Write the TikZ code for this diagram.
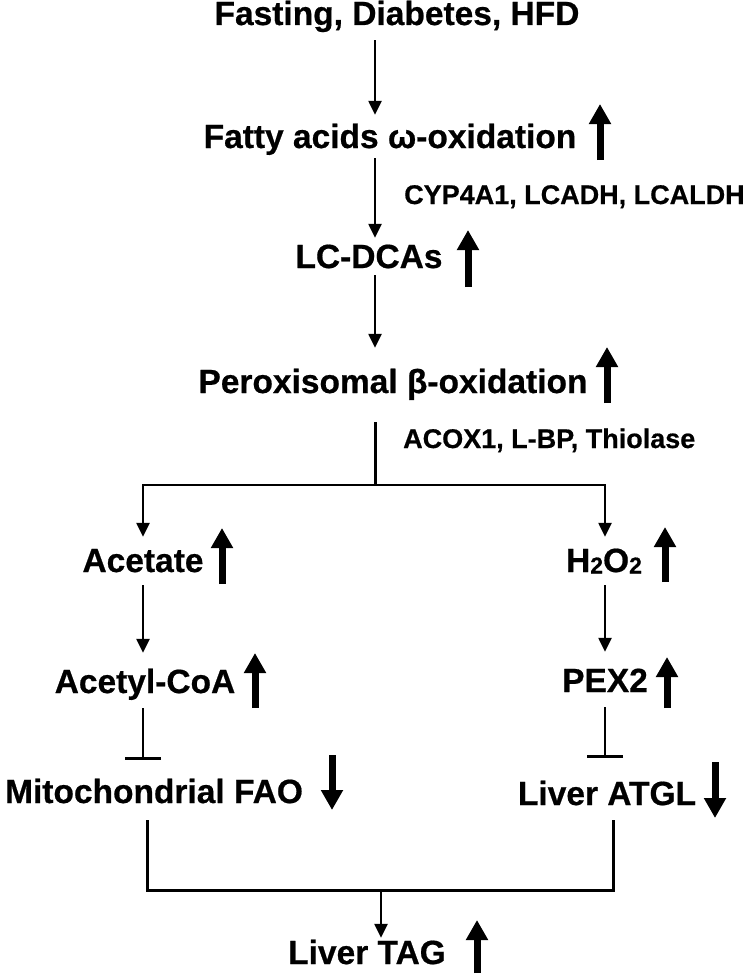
\documentclass[tikz,border=0pt]{standalone}
\usepackage{fontspec}
\setmainfont{Liberation Sans}[BoldFeatures={FakeBold=0.6}]
\usepackage{tikz}
\usetikzlibrary{positioning,arrows.meta,calc}

\newcommand{\lowtwo}{\raisebox{-1.5pt}{\fontsize{23}{23}\selectfont 2}}

\begin{document}
\begin{tikzpicture}[x=1pt,y=-1pt,
  lab/.style={font=\fontsize{33.5}{36}\selectfont\bfseries,inner sep=0pt,
    text height=24pt,text depth=0pt,anchor=base},
  enz/.style={font=\fontsize{27}{30}\selectfont\bfseries,inner sep=0pt,anchor=base west},
  flow/.style={line width=2.4pt,-{Triangle[width=13pt,length=14pt]}},
  link/.style={line width=3pt},
  block/.style={line width=2.4pt,-{Bar[width=36pt,line width=3.2pt]}},
  updown/.style={line width=7pt,-{Triangle[width=21pt,length=20pt]}},
]
  \useasboundingbox (0,0) rectangle (751,974);

  % main column
  \node[lab] (fast) at (397,25) {Fasting, Diabetes, HFD};
  \node[lab] (fatty) at (390,148) {Fatty acids ω-oxidation};
  \node[enz] (cyp) at (404,204) {CYP4A1, LCADH, LCALDH};
  \node[lab] (lcd) at (369,268) {LC-DCAs};
  \node[lab] (perox) at (393,393) {Peroxisomal β-oxidation};
  \node[enz] (acox) at (403,448) {ACOX1, L-BP, Thiolase};

  % two branches
  \node[lab] (acet) at (143,572) {Acetate};
  \node[lab] (h2o2) at (604,572) {H\lowtwo O\lowtwo};
  \node[lab] (acoa) at (145,693) {Acetyl-CoA};
  \node[lab] (pex) at (605,692) {PEX2};
  \node[lab] (fao) at (154,803) {Mitochondrial FAO};
  \node[lab] (atgl) at (607,805) {Liver ATGL};
  \node[lab] (tag) at (367,964) {Liver TAG};

  \coordinate (main) at (375,0);
  \coordinate (left) at (143,0);
  \coordinate (right) at (605,0);
  \coordinate (split) at (375,485);
  \coordinate (splitL) at (143,485);
  \coordinate (splitR) at (605,485);
  \coordinate (joinL) at (147,890);
  \coordinate (joinR) at (613,890);
  \coordinate (join) at (381,890);

  % connectors
  \draw[flow,shorten <=15pt,shorten >=9pt] (fast.south -| main) -- (fatty.north -| main);
  \draw[flow,shorten <=10pt,shorten >=6pt] (fatty.south -| main) -- (lcd.north -| main);
  \draw[flow,shorten <=7pt,shorten >=21pt] (lcd.south -| main) -- (perox.north -| main);
  \draw[link,shorten <=29pt] (perox.south -| main) -- (split);
  \draw[flow,shorten >=11pt] (split) -- (splitL) -- (acet.north -| splitL);
  \draw[flow,shorten >=11pt] (split) -- (splitR) -- (h2o2.north -| splitR);
  \draw[flow,shorten <=13pt,shorten >=16pt] (acet.south -| left) -- (acoa.north -| left);
  \draw[flow,shorten <=13pt,shorten >=16pt] (h2o2.south -| right) -- (pex.north -| right);
  \draw[block,shorten <=15pt,shorten >=19pt] (acoa.south -| left) -- (fao.north -| left);
  \draw[block,shorten <=15pt,shorten >=23pt] (pex.south -| right) -- (atgl.north -| right);
  \draw[link,shorten <=17pt,shorten >=15pt] (fao.south -| joinL) -- (joinL) -- (joinR) -- (atgl.south -| joinR);
  \draw[flow,shorten >=2pt] (join) -- (tag.north -| join);

  % up and down marks
  \foreach \x/\ya/\yb in {600/160/104,468/287/230,607/403/347,222/584/528,
      665/582/527,255/708/653,667/708/657,477/973/920,332/755/810,715/762/818}
    \draw[updown] (\x,\ya) -- (\x,\yb);
\end{tikzpicture}
\end{document}
